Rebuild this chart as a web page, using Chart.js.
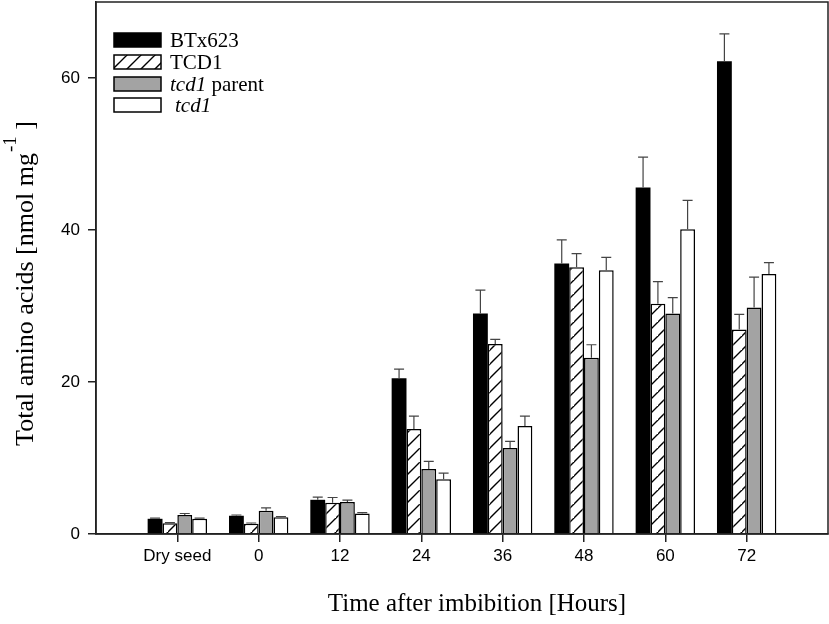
<!DOCTYPE html>
<html lang="en">
<head>
    <meta charset="UTF-8">
    <title>Total amino acids</title>
    <script src="https://cdn.jsdelivr.net/npm/chart.js"></script>
    <style>
        body {
            margin: 0;
            padding: 0;
            background: #fff;
            overflow: hidden;
        }
        #wrap {
            width: 829px;
            height: 624px;
        }
    </style>
</head>
<body>
    <div id="wrap"><canvas id="chart"></canvas></div>

    <script>
        // data
        const categories = ['Dry seed', '0', '12', '24', '36', '48', '60', '72'];
        const seriesNames = ['BTx623', 'TCD1', 'tcd1 parent', 'tcd1'];

        const btx623 = [2.0, 2.4, 4.5, 20.5, 29.0, 35.6, 45.6, 62.2];
        const tcd1Line = [1.4, 1.35, 4.1, 13.8, 25.0, 35.1, 30.3, 26.9];
        const tcd1Parent = [2.5, 3.05, 4.2, 8.55, 11.3, 23.2, 29.0, 29.8];
        const tcd1 = [2.0, 2.2, 2.7, 7.2, 14.2, 34.7, 40.1, 34.2];

        const btx623Err = [0.1, 0.1, 0.35, 1.2, 3.1, 3.1, 4.0, 3.6];
        const tcd1LineErr = [0.1, 0.1, 0.7, 1.7, 0.6, 1.8, 2.9, 2.0];
        const tcd1ParentErr = [0.2, 0.4, 0.25, 1.0, 0.9, 1.7, 2.1, 4.0];
        const tcd1Err = [0.1, 0.1, 0.1, 0.8, 1.3, 1.7, 3.8, 1.5];

        const yTicks = [0, 20, 40, 60];
        const yMax = 70;

        // one empty slot either side, like the original axis
        const labels = [''].concat(categories, ['']);
        const pad = arr => [null].concat(arr, [null]);

        // hatch pattern for TCD1
        function makeHatch() {
            const s = 14;
            const c = document.createElement('canvas');
            c.width = s;
            c.height = s;
            const g = c.getContext('2d');
            g.fillStyle = '#fff';
            g.fillRect(0, 0, s, s);
            g.strokeStyle = '#000';
            g.lineWidth = 1.4;
            g.beginPath();
            g.moveTo(-2, s + 2); g.lineTo(s + 2, -2);
            g.moveTo(-2 - s, s + 2); g.lineTo(2, -2);
            g.moveTo(s - 2, 2 * s + 2); g.lineTo(2 * s + 2, s - 2);
            g.stroke();
            return g.createPattern(c, 'repeat');
        }
        const hatch = makeHatch();

        const fills = ['#000000', hatch, '#a3a3a3', '#ffffff'];
        const errs = [btx623Err, tcd1LineErr, tcd1ParentErr, tcd1Err];

        const serif = "'Liberation Serif', 'Times New Roman', serif";
        const sans = "'Liberation Sans', Arial, sans-serif";

        // error bars (upper only) drawn from the bar tops
        const errorBars = {
            id: 'errorBars',
            afterDatasetsDraw(chart) {
                const ctx = chart.ctx;
                const y = chart.scales.y;
                ctx.save();
                ctx.strokeStyle = '#444';
                ctx.lineWidth = 1.2;
                chart.data.datasets.forEach((ds, i) => {
                    const meta = chart.getDatasetMeta(i);
                    meta.data.forEach((bar, j) => {
                        const v = ds.data[j];
                        if (v === null) return;
                        const e = errs[i][j - 1];
                        const top = y.getPixelForValue(v + e);
                        const base = y.getPixelForValue(v);
                        ctx.beginPath();
                        ctx.moveTo(bar.x, base);
                        ctx.lineTo(bar.x, top);
                        ctx.moveTo(bar.x - 5, top);
                        ctx.lineTo(bar.x + 5, top);
                        ctx.stroke();
                    });
                });
                ctx.restore();
            }
        };

        // frame, axis titles and legend
        const decorations = {
            id: 'decorations',
            afterDraw(chart) {
                const ctx = chart.ctx;
                const a = chart.chartArea;
                ctx.save();

                ctx.strokeStyle = '#222';
                ctx.lineWidth = 1.5;
                ctx.strokeRect(a.left, a.top, a.right - a.left, a.bottom - a.top);

                ctx.fillStyle = '#000';
                ctx.textBaseline = 'middle';

                // x title
                ctx.font = '25px ' + serif;
                ctx.textAlign = 'center';
                ctx.fillText('Time after imbibition [Hours]', 477, 604);

                // y title with superscript
                ctx.translate(25, 284);
                ctx.rotate(-Math.PI / 2);
                ctx.textAlign = 'left';
                ctx.textBaseline = 'alphabetic';
                const main = 'Total amino acids [nmol mg';
                const sup = '-1';
                const tail = ' ]';
                ctx.font = '26px ' + serif;
                const w1 = ctx.measureText(main).width;
                const w3 = ctx.measureText(tail).width;
                ctx.font = '19px ' + serif;
                const w2 = ctx.measureText(sup).width;
                let x0 = -(w1 + w2 + w3) / 2;
                ctx.font = '26px ' + serif;
                ctx.fillText(main, x0, 8);
                ctx.font = '19px ' + serif;
                ctx.fillText(sup, x0 + w1 + 1, -9);
                ctx.font = '26px ' + serif;
                ctx.fillText(tail, x0 + w1 + w2 + 1, 8);
                ctx.setTransform(1, 0, 0, 1, 0, 0);

                // legend
                const rows = [40, 62, 84, 105];
                ctx.textBaseline = 'middle';
                ctx.textAlign = 'left';
                seriesNames.forEach((name, i) => {
                    const cy = rows[i];
                    ctx.fillStyle = fills[i];
                    ctx.fillRect(114, cy - 7, 47, 14);
                    ctx.strokeStyle = '#000';
                    ctx.lineWidth = 1.5;
                    ctx.strokeRect(114, cy - 7, 47, 14);
                    ctx.fillStyle = '#000';
                    let tx = 170;
                    if (name.startsWith('tcd1')) {
                        if (name === 'tcd1') tx += 5;
                        ctx.font = 'italic 21px ' + serif;
                        ctx.fillText('tcd1', tx, cy + 1);
                        tx += ctx.measureText('tcd1').width;
                        ctx.font = '21px ' + serif;
                        ctx.fillText(name.slice(4), tx, cy + 1);
                    } else {
                        ctx.font = '21px ' + serif;
                        ctx.fillText(name, tx, cy + 1);
                    }
                });
                ctx.restore();
            }
        };

        const seriesData = [btx623, tcd1Line, tcd1Parent, tcd1];

        new Chart(document.getElementById('chart'), {
            type: 'bar',
            data: {
                labels: labels,
                datasets: seriesData.map((d, i) => ({
                    label: seriesNames[i],
                    data: pad(d),
                    backgroundColor: fills[i],
                    borderColor: '#000',
                    borderWidth: i === 0 ? 0 : 1.5,
                    barPercentage: 1,
                    categoryPercentage: 0.73
                }))
            },
            options: {
                responsive: true,
                maintainAspectRatio: false,
                animation: false,
                layout: { padding: { top: 2, right: 1, left: 0, bottom: 0 } },
                plugins: {
                    legend: { display: false },
                    tooltip: { enabled: false }
                },
                scales: {
                    x: {
                        offset: false,
                        afterFit: s => {
                            s.height = 90;
                            s.paddingLeft = 0;
                            s.paddingRight = 0;
                        },
                        grid: {
                            offset: false,
                            drawOnChartArea: false,
                            tickLength: 8,
                            lineWidth: 1.5,
                            color: ctx => (ctx.index === 0 || ctx.index === labels.length - 1) ? 'rgba(0,0,0,0)' : '#222'
                        },
                        border: { display: true, color: '#222', width: 1.5 },
                        ticks: {
                            color: '#000',
                            font: { family: sans, size: 17 },
                            padding: 4,
                            maxRotation: 0,
                            autoSkip: false
                        }
                    },
                    y: {
                        min: 0,
                        max: yMax,
                        afterFit: s => {
                            s.width = 96;
                            s.paddingTop = 0;
                            s.paddingBottom = 0;
                        },
                        afterBuildTicks: s => { s.ticks = yTicks.map(v => ({ value: v })); },
                        grid: {
                            drawOnChartArea: false,
                            tickLength: 8,
                            lineWidth: 1.5,
                            color: '#222'
                        },
                        border: { display: true, color: '#222', width: 1.5 },
                        ticks: {
                            color: '#000',
                            font: { family: sans, size: 17 },
                            padding: 8
                        }
                    }
                }
            },
            plugins: [errorBars, decorations]
        });
    </script>
</body>
</html>
